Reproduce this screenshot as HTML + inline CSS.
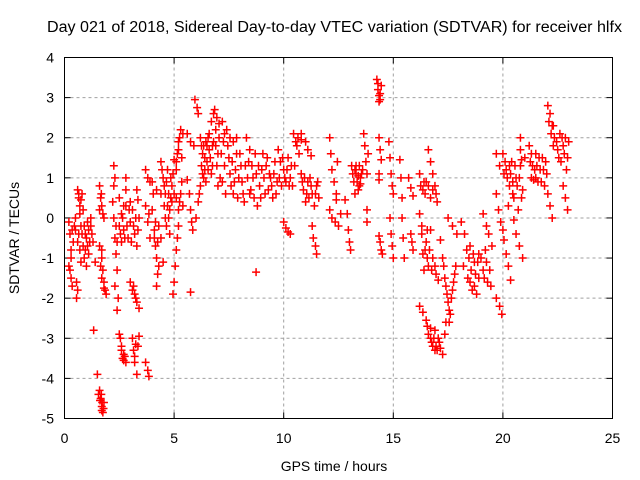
<!DOCTYPE html>
<html><head><meta charset="utf-8"><style>
body{margin:0;background:#fff;}
svg{display:block;font-family:"Liberation Sans",sans-serif;}
</style></head><body>
<svg id="chart" width="640" height="480" viewBox="0 0 640 480" xmlns="http://www.w3.org/2000/svg">
<rect x="0" y="0" width="640" height="480" fill="#fff"/>
<text x="334.5" y="32" font-size="15.5" text-anchor="middle" fill="#000" textLength="575" lengthAdjust="spacingAndGlyphs">Day 021 of 2018, Sidereal Day-to-day VTEC variation (SDTVAR) for receiver hlfx</text>
<g id="grid"></g>
<g id="ticks"></g>
<g id="marks"></g>
<rect x="64.5" y="57.5" width="548" height="361" fill="none" stroke="#000" stroke-width="1"/>
<text x="334" y="471" font-size="14" text-anchor="middle">GPS time / hours</text>
<text x="19" y="238" font-size="14" text-anchor="middle" transform="rotate(-90 19 238)">SDTVAR / TECUs</text>
</svg>
<script>
const xTicks=[0,5,10,15,20,25];
const yTicks=[-5,-4,-3,-2,-1,0,1,2,3,4];
const observations=[
[0.2,-0.1],[0.25,-0.4],[0.3,-1.0],[0.25,-1.3],[0.3,-1.5],[0.35,-1.7],[0.4,-0.6],[0.45,-0.2],[0.2,-1.2],
[0.6,0.7],[0.65,0.5],[0.7,0.3],[0.8,0.6],[0.85,0.2],[0.7,0.1],
[0.5,-0.3],[0.6,-0.6],[0.7,-0.8],[0.8,-0.4],[0.9,-1.0],[1.0,-0.5],[1.1,-0.9],[1.2,-0.2],[1.3,-0.6],[1.4,-1.1],[0.9,-0.2],[1.0,-1.2],[1.2,0.0],[0.75,-1.1],[1.1,-0.3],
[0.55,-1.6],[0.6,-1.8],[0.55,-2.0],
[1.33,-2.8],
[1.5,-3.9],[1.6,-4.3],[1.65,-4.5],[1.7,-4.7],[1.75,-4.85],[1.8,-4.6],[1.55,-4.4],
[1.6,0.8],[1.65,0.5],[1.7,0.3],[1.75,0.1],[1.8,0.0],[1.6,0.2],
[1.6,-0.7],[1.7,-1.0],[1.75,-1.3],[1.8,-1.6],[1.85,-1.8],[1.9,-1.9],[1.65,-1.2],
[2.25,1.3],[2.3,1.0],[2.25,0.8],
[2.2,0.4],[2.25,0.0],[2.3,-0.5],[2.35,-0.9],[2.4,-1.3],[2.3,-1.7],[2.45,-2.0],[2.4,-2.3],
[2.5,-2.9],[2.6,-3.2],[2.7,-3.4],[2.8,-3.6],[2.65,-3.5],
[2.8,1.0],[2.8,0.7],
[2.5,0.5],[2.6,0.1],[2.7,-0.3],[2.8,0.3],[2.9,-0.5],[3.0,-0.1],[3.1,0.2],[3.2,-0.4],[3.3,-0.7],[3.4,0.0],[2.6,-0.6],[3.0,0.4],
[3.0,-1.6],[3.1,-1.8],[3.2,-1.9],[3.3,-2.1],[3.4,-2.25],
[3.1,-3.0],[3.15,-3.3],[3.2,-3.6],[3.3,-3.9],[3.35,-3.2],[3.4,-2.95],
[3.3,0.7],[3.35,0.45],
[3.7,-3.6],[3.8,-3.8],[3.85,-3.95],
[3.7,1.2],[3.8,1.0],[3.9,0.9],
[3.7,0.3],[3.8,-0.1],[3.9,-0.5],[3.85,0.1],
[4.0,0.9],[4.2,0.7],[4.4,0.6],
[4.0,0.2],[4.1,-0.3],[4.15,-0.7],[4.2,-1.0],[4.25,-1.4],[4.2,-1.7],[4.3,-0.2],[4.4,-0.5],
[4.5,-1.1],
[4.4,1.4],[4.5,1.0],[4.6,0.6],[4.7,1.2],[4.8,0.2],[4.9,0.8],[5.0,1.45],[4.6,0.0],[4.8,-0.4],[5.1,0.5],[4.7,0.3],
[4.95,-1.9],[5.0,-1.6],[5.05,-1.2],[5.1,-0.8],[5.15,-0.5],[5.2,-0.2],
[5.0,0.6],[5.1,1.2],[5.15,1.6],[5.2,1.9],[5.3,2.2],[5.4,2.1],[5.25,0.4],[5.35,0.9],[5.2,0.2],
[5.75,-1.85],
[5.6,2.1],[5.75,1.9],[5.9,1.8],
[5.6,0.95],[5.7,0.6],[5.75,0.2],[5.8,-0.1],[5.85,-0.3],
[5.95,2.95],[6.05,2.75],[6.1,2.6],
[6.0,0.0],[6.1,0.4],[6.2,0.8],[6.3,1.1],[6.4,1.5],[6.5,1.8],[6.6,2.1],[6.7,2.4],[6.8,2.6],
[6.2,2.0],[6.3,1.6],[6.4,1.2],[6.5,1.4],[6.6,1.7],[6.7,1.1],[6.8,1.9],[6.35,1.8],
[6.85,2.7],[6.9,2.2],[7.0,1.6],[7.1,1.0],[7.2,2.4],[7.3,1.3],[7.35,0.6],[7.0,0.8],[7.25,1.9],
[7.4,2.2],[7.5,1.5],[7.6,0.8],[7.7,1.9],[7.8,1.2],[7.9,0.5],[8.0,1.6],[8.1,0.9],[8.2,0.4],[8.25,1.3],[7.55,2.0],
[8.3,2.0],[8.4,1.4],[8.5,0.7],[8.6,1.0],[8.7,1.6],[8.8,0.3],[8.9,0.8],[9.0,1.2],
[8.74,-1.35],
[9.05,1.6],[9.2,1.3],[9.3,0.7],[9.4,1.0],[9.5,0.5],[9.6,1.4],[9.7,0.9],
[10.0,-0.1],[10.1,-0.25],[10.2,-0.35],[10.3,-0.4],
[9.75,1.7],[9.85,1.4],[10.0,1.2],[10.1,0.9],[10.2,1.5],[10.3,1.0],[10.4,0.8],[10.5,1.3],
[10.45,2.1],[10.55,1.9],[10.7,1.6],
[10.8,1.1],[10.9,0.7],[11.0,0.4],[11.1,0.9],[11.2,1.0],[11.3,0.6],[11.4,0.3],[11.5,0.8],[11.6,0.5],
[10.8,2.1],[10.8,1.95],
[11.0,1.9],[11.1,1.7],[11.25,1.55],
[11.3,-0.2],[11.35,-0.5],[11.45,-0.7],[11.5,-0.9],
[12.1,2.0],[12.15,1.6],[12.2,1.2],[12.3,0.9],[12.4,0.6],[12.45,1.4],
[12.1,0.2],[12.2,0.0],[12.35,-0.1],[12.5,-0.2],[12.6,0.1],
[12.4,0.45],
[13.1,1.3],[13.2,0.9],[13.3,1.1],[13.4,0.7],[13.5,1.0],[13.6,1.2],[13.25,0.6],[13.45,1.3],
[12.8,0.45],[12.9,0.1],[12.95,-0.3],[13.0,-0.6],[13.05,-0.8],
[13.65,2.1],[13.7,1.8],[13.75,1.4],[13.8,1.1],[13.85,1.6],
[13.8,0.2],[13.8,-0.1],
[14.25,3.45],[14.3,3.2],[14.35,3.05],[14.4,2.95],[14.45,3.3],
[14.35,2.0],[14.4,1.7],[14.45,1.45],
[14.35,1.1],[14.35,0.95],
[14.35,-0.45],[14.4,-0.6],[14.45,-0.8],[14.5,-0.9],
[14.8,1.9],[14.85,1.5],[14.9,1.1],[14.95,0.8],[15.0,0.6],
[14.85,0.0],[14.9,-0.4],[14.95,-0.7],[15.0,-1.0],
[15.3,1.45],[15.35,1.0],[15.4,0.5],[15.4,0.0],[15.45,-0.5],[15.5,-1.0],
[15.7,1.0],[15.8,0.75],[15.9,0.55],
[15.8,-0.4],[15.85,-0.6],[15.9,-0.8],
[16.2,1.1],[16.35,0.7],[16.5,0.9],[16.7,0.5],[16.9,0.8],[17.0,0.4],
[16.6,1.7],[16.7,1.4],[16.8,1.1],
[16.2,0.1],[16.3,-0.4],[16.35,-0.9],[16.5,-0.6],[16.6,-1.2],[16.7,-0.3],[16.8,-1.0],[16.95,-1.4],[17.05,-1.55],[16.4,-1.3],
[16.2,-2.2],[16.35,-2.35],[16.5,-2.55],
[16.55,-2.7],[16.7,-3.0],[16.8,-3.2],[16.9,-2.8],[17.0,-3.3],[17.1,-3.1],[17.25,-3.4],[17.35,-2.9],
[17.15,-0.55],[17.25,-1.0],[17.35,-1.5],[17.45,-1.9],[17.55,-2.3],[17.65,-2.0],[17.75,-1.6],[17.85,-1.2],[17.4,-2.6],
[17.5,0.0],[17.7,-0.2],[17.9,-0.4],
[18.1,-0.1],[18.25,-0.4],[18.35,-0.8],
[18.2,-1.2],[18.4,-1.5],[18.6,-1.8],[18.8,-1.9],[18.9,-1.5],
[18.5,-0.7],[18.7,-1.1],[18.9,-0.9],[19.1,-1.3],[19.3,-1.6],[19.45,-1.7],[19.2,-0.8],
[19.1,0.1],[19.25,-0.2],[19.35,-0.4],[19.5,-0.7],
[19.7,-2.0],[19.85,-2.2],[19.95,-2.4],
[19.7,0.6],[19.8,0.2],[19.9,-0.1],[20.0,-0.3],
[19.7,1.6],[19.85,1.3],[20.05,1.1],
[20.0,1.6],[20.15,1.2],[20.3,0.8],[20.4,1.4],[20.5,0.5],[20.6,1.0],[20.7,0.2],[20.8,1.3],[20.9,0.7],[21.0,1.5],[20.25,0.3],
[20.05,-0.55],[20.15,-0.9],[20.25,-1.2],[20.35,-1.55],
[20.5,-0.05],[20.6,-0.4],[20.75,-0.7],[20.9,-1.0],
[20.8,2.0],[20.8,1.7],[20.85,1.45],
[21.2,1.8],[21.35,1.3],[21.5,1.6],[21.6,0.9],[21.7,1.2],[21.8,1.5],[21.9,0.8],[22.0,1.1],[21.4,0.95],
[22.05,2.8],[22.1,2.4],[22.2,2.1],[22.3,1.8],
[22.05,0.6],[22.15,0.3],[22.25,0.0],
[22.3,2.3],[22.45,1.9],[22.55,1.5],[22.7,2.0],[22.8,1.6],[22.9,1.2],[23.0,1.9],
[22.75,0.8],[22.85,0.5],[22.95,0.2],
[0.3,-0.8],[0.35,-0.3],[0.5,0.0],[0.65,-0.4],[0.75,-0.2],[0.85,-0.7],[0.95,-0.8],[1.05,-0.1],[1.15,-0.6],[1.25,-0.4],[0.95,-0.4],[1.05,-0.7],[0.65,0.6],[0.75,0.45],
[1.7,-4.8],[1.72,-4.6],[1.78,-4.75],[1.62,-4.55],[1.68,-4.4],
[1.7,-1.5],[1.8,-1.75],[1.68,0.6],[1.7,-0.8],
[2.35,-0.2],[2.4,-0.6],[2.5,-0.2],[2.55,-0.4],[2.65,0.0],[2.75,-0.5],[2.85,-0.2],[2.95,0.2],[3.05,-0.6],[3.15,-0.2],[3.25,0.0],[3.35,-0.3],[2.7,0.3],
[2.55,-3.0],[2.6,-3.3],[2.7,-3.55],[2.75,-3.45],
[3.15,-1.7],[3.25,-2.0],[3.2,-3.45],[3.25,-3.15],
[4.05,0.6],[4.15,-0.1],[4.25,-0.6],[4.3,-1.2],[4.1,-0.5],
[4.45,1.2],[4.55,0.8],[4.65,0.9],[4.75,0.6],[4.85,1.0],[4.9,0.4],[4.95,1.1],[4.55,0.3],[4.65,-0.2],[4.75,0.0],[4.85,0.5],
[5.1,1.4],[5.2,1.7],[5.25,2.0],[5.3,0.6],[5.35,1.5],[5.4,0.3],
[6.15,0.6],[6.25,1.3],[6.35,1.0],[6.45,1.9],[6.55,1.2],[6.65,1.5],[6.75,1.8],[6.25,1.8],[6.45,0.9],[6.55,2.0],[6.75,1.3],[6.9,1.8],[6.95,1.3],[7.05,2.0],[7.15,1.6],[7.2,0.9],[7.3,2.1],[6.95,2.5],[7.05,2.35],
[7.45,1.8],[7.55,1.1],[7.65,1.4],[7.75,0.9],[7.85,1.6],[7.95,1.0],[8.05,1.3],[8.15,0.6],[7.7,0.6],[7.85,2.0],
[8.35,1.0],[8.45,0.6],[8.55,1.3],[8.65,0.5],[8.75,1.1],[8.85,1.3],[8.95,0.5],[8.45,1.7],
[9.1,1.0],[9.15,0.6],[9.25,1.5],[9.35,1.1],[9.45,0.8],[9.55,1.1],[9.65,0.6],
[9.8,1.0],[9.95,1.5],[10.05,1.0],[10.15,1.2],[10.25,0.8],[10.35,1.3],[9.9,0.8],
[10.6,1.8],[10.65,2.0],[10.85,0.9],[10.95,1.0],[11.05,0.6],[11.15,0.5],[11.25,0.8],[11.45,0.6],[11.55,0.9],
[13.15,1.1],[13.25,1.2],[13.35,0.9],[13.45,0.8],[13.55,1.1],[13.3,1.3],[13.4,1.05],[13.5,0.85],
[14.3,3.35],[14.4,3.1],[14.35,2.9],
[16.25,0.8],[16.45,0.6],[16.6,0.8],[16.8,0.7],[16.95,0.6],[16.4,0.9],
[16.3,-0.2],[16.45,-0.8],[16.55,-1.0],[16.65,-0.8],[16.75,-1.3],[16.9,-1.2],[16.55,-0.3],
[16.6,-2.9],[16.75,-3.1],[16.85,-3.0],[16.95,-3.2],[17.05,-3.0],[17.15,-3.25],[16.7,-2.75],[16.9,-3.3],
[17.3,-1.2],[17.4,-1.7],[17.5,-2.1],[17.6,-2.4],[17.7,-1.8],[17.8,-1.4],[17.55,-2.6],
[18.45,-1.0],[18.55,-1.3],[18.65,-0.9],[18.75,-1.4],[18.85,-1.1],[19.0,-1.0],[19.15,-1.5],[19.25,-1.1],[19.4,-1.3],[18.5,-1.6],[18.7,-1.7],
[20.1,1.4],[20.2,1.0],[20.3,1.3],[20.35,1.1],[20.45,0.9],[20.55,1.3],[20.65,0.8],[20.75,1.0],[20.85,0.5],[20.45,0.6],
[21.25,1.4],[21.3,1.0],[21.45,1.2],[21.55,1.3],[21.65,1.5],[21.75,0.9],[21.85,1.2],[21.95,1.4],[21.3,1.6],[21.5,1.0],
[22.15,2.6],[22.25,2.3],[22.35,2.0],[22.5,1.7],[22.6,2.1],[22.65,1.4],[22.75,1.8],[22.85,2.0],[22.95,1.5]
];
const hours=observations.map(p=>p[0]);
const sdtvar=observations.map(p=>p[1]);

const NS="http://www.w3.org/2000/svg";
const X0=64.5,X1=612.5,Y0=418.5,Y1=57.5;
const xMin=0,xMax=25,yMin=-5,yMax=4;
function xs(t){return X0+(t-xMin)/(xMax-xMin)*(X1-X0);}
function ys(v){return Y0-(v-yMin)/(yMax-yMin)*(Y0-Y1);}
function mk(tag,attrs,parent){const e=document.createElementNS(NS,tag);for(const k in attrs)e.setAttribute(k,attrs[k]);parent.appendChild(e);return e;}

const grid=document.getElementById('grid');
const ticks=document.getElementById('ticks');
xTicks.forEach(t=>{
  const x=xs(t);
  if(t>xMin&&t<xMax){
    const g=mk('line',{x1:x,y1:Y0,x2:x,y2:Y1,stroke:'#a0a0a0','stroke-dasharray':'3,3','stroke-width':1},grid);
    
    
  }
  mk('line',{x1:x,y1:Y0,x2:x,y2:Y0-6,stroke:'#000'},ticks);
  mk('line',{x1:x,y1:Y1,x2:x,y2:Y1+6,stroke:'#000'},ticks);
  const lb=mk('text',{x:x,y:443,'font-size':14,'text-anchor':'middle'},ticks);
  lb.textContent=t;
  
  
});
yTicks.forEach(v=>{
  const y=ys(v);
  if(v>yMin&&v<yMax){
    const g=mk('line',{x1:X0,y1:y,x2:X1,y2:y,stroke:'#a0a0a0','stroke-dasharray':'3,3','stroke-width':1},grid);
    
    
  }
  mk('line',{x1:X0,y1:y,x2:X0+6,y2:y,stroke:'#000'},ticks);
  mk('line',{x1:X1,y1:y,x2:X1-6,y2:y,stroke:'#000'},ticks);
  const lb=mk('text',{x:54,y:y+5,'font-size':14,'text-anchor':'end'},ticks);
  lb.textContent=v;
  
  
});
const marks=document.getElementById('marks');
let d='';
for(let i=0;i<hours.length;i++){
  const x=xs(hours[i]),y=ys(sdtvar[i]);
  d+=`M${x-4},${y}H${x+4}M${x},${y-4}V${y+4}`;
}
const p=mk('path',{d:d,stroke:'#ff0000','stroke-width':1.5,fill:'none'},marks);


</script>
</body></html>
